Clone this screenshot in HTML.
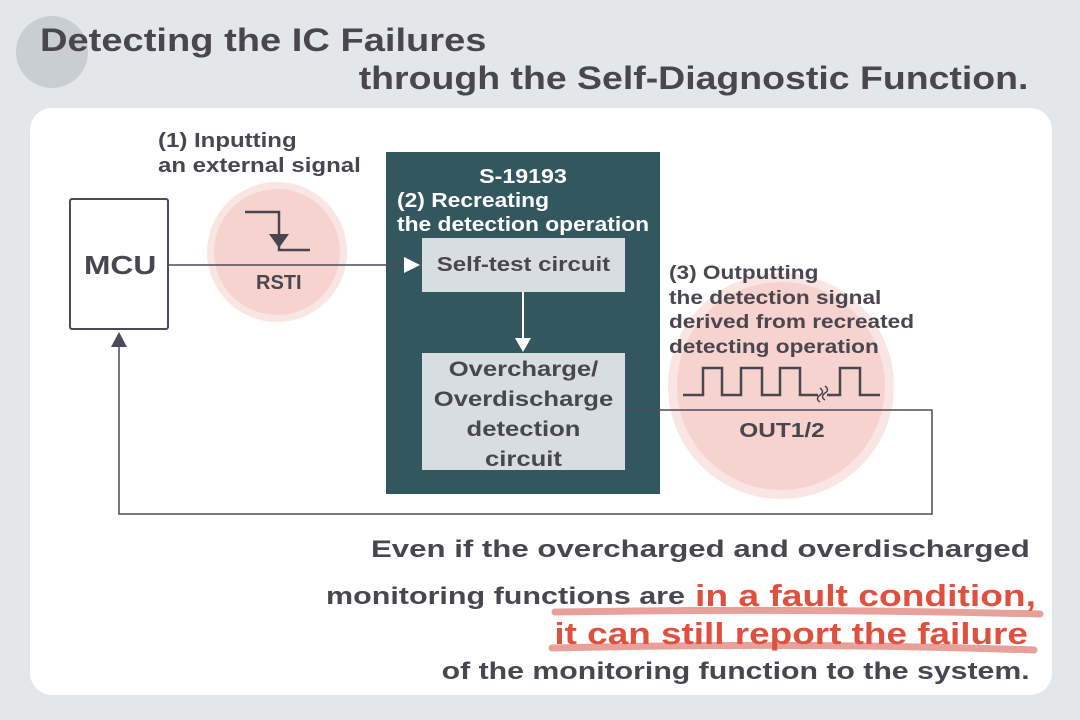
<!DOCTYPE html>
<html><head><meta charset="utf-8"><style>
body{margin:0;width:1080px;height:720px;background:#e3e7ea;position:relative;overflow:hidden;font-family:"Liberation Sans",sans-serif;font-weight:bold;color:#4a4650}
.a{position:absolute;white-space:nowrap}
.l{transform-origin:left top}.r{transform-origin:right top}.c{transform-origin:center top}
</style></head><body>
<div class="a" style="left:16px;top:16px;width:72px;height:72px;border-radius:50%;background:#c8ced2"></div>
<div class="a l" style="left:40px;top:22px;font-size:32px;transform:scaleX(1.19)">Detecting the IC Failures</div>
<div class="a r" style="right:52px;top:60px;font-size:32px;transform:scaleX(1.17)">through the Self-Diagnostic Function.</div>
<div class="a" style="left:30px;top:108px;width:1022px;height:587px;background:#fff;border-radius:22px"></div>
<svg class="a" style="left:0;top:0" width="1080" height="720">
<circle cx="277" cy="252" r="70" fill="#f9e6e4"/><circle cx="277" cy="252" r="63" fill="#f6d3cf"/>
<circle cx="781" cy="386" r="113" fill="#f9e6e4"/><circle cx="781" cy="386" r="104" fill="#f6d3cf"/>
<rect x="386" y="152" width="274" height="342" fill="#33575f"/>
<rect x="422" y="238" width="203" height="54" fill="#d7dde0"/>
<rect x="422" y="353" width="203" height="117" fill="#d7dde0"/>
<rect x="70" y="199" width="98" height="130" fill="#fff" stroke="#4d4a5a" stroke-width="2" rx="2"/>
<line x1="168" y1="265" x2="404" y2="265" stroke="#4d4a5a" stroke-width="1.5"/>
<polygon points="404,257 420,265 404,273" fill="#fff"/>
<line x1="523" y1="292" x2="523" y2="340" stroke="#fff" stroke-width="2"/>
<polygon points="515,338 531,338 523,352" fill="#fff"/>
<polyline points="625,410 932,410 932,514 119,514 119,345" fill="none" stroke="#4d4a5a" stroke-width="1.5"/>
<polygon points="111,347 127,347 119,332" fill="#4d4a5a"/>
<polyline points="245,212 279,212 279,250 310,250" fill="none" stroke="#4a4650" stroke-width="2.5"/>
<polygon points="269,234 289,234 279,248" fill="#4a4650"/>
<path d="M683,395 H703 V368 H722 V395 H741 V368 H762 V395 H780 V368 H800 V395 H818 M827,395 H840 V368 H860 V395 H880" fill="none" stroke="#4a4650" stroke-width="2.5"/>
<path d="M820,388 q5,4 0,7 q-5,4 0,7 M825,386 q5,4 0,7 q-5,4 0,7" fill="none" stroke="#4a4650" stroke-width="1.5"/>
<path d="M555,612 Q800,608 1040,614" stroke="#e8a19a" stroke-width="7" fill="none" stroke-linecap="round"/>
<path d="M552,648 Q800,642 1034,650" stroke="#e8a19a" stroke-width="7" fill="none" stroke-linecap="round"/>
</svg>
<div class="a l" style="left:158px;top:129px;font-size:20px;line-height:25px;transform:scaleX(1.2)">(1) Inputting<br>an external signal</div>
<div class="a l" style="left:84px;top:250px;font-size:26px;transform:scaleX(1.22)">MCU</div>
<div class="a" style="left:256px;top:272px;font-size:20px">RSTI</div>
<div class="a c" style="left:386px;width:274px;text-align:center;top:166px;font-size:20px;color:#fff;transform:scaleX(1.16)">S-19193</div>
<div class="a l" style="left:397px;top:189px;font-size:20px;line-height:24px;color:#fff;transform:scaleX(1.14)">(2) Recreating<br>the detection operation</div>
<div class="a c" style="left:422px;width:203px;text-align:center;top:254px;font-size:20px;transform:scaleX(1.2)">Self-test circuit</div>
<div class="a c" style="left:422px;width:203px;text-align:center;top:355px;font-size:21px;line-height:30px;transform:scaleX(1.22)">Overcharge/<br>Overdischarge<br>detection<br>circuit</div>
<div class="a l" style="left:669px;top:262px;font-size:19px;line-height:24.5px;transform:scaleX(1.19)">(3) Outputting<br>the detection signal<br>derived from recreated<br>detecting operation</div>
<div class="a c" style="left:732px;width:100px;text-align:center;top:420px;font-size:20px;transform:scaleX(1.22)">OUT1/2</div>
<div class="a r" style="right:50px;top:536px;font-size:24px;transform:scaleX(1.3)">Even if the overcharged and overdischarged</div>
<div class="a l" style="left:326px;top:583px;font-size:24px;transform:scaleX(1.27)">monitoring functions are</div>
<div class="a l" style="left:695px;top:578px;font-size:31px;color:#e0503e;transform:scaleX(1.2)">in a fault condition,</div>
<div class="a r" style="right:52px;top:616px;font-size:31px;color:#e0503e;transform:scaleX(1.19)">it can still report the failure</div>
<div class="a r" style="right:50px;top:658px;font-size:24px;transform:scaleX(1.26)">of the monitoring function to the system.</div>
</body></html>
